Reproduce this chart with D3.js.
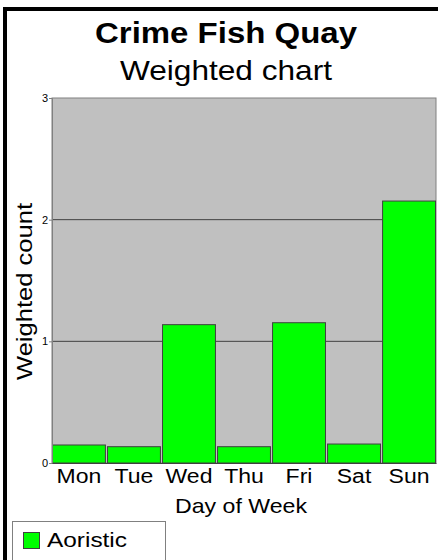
<!DOCTYPE html>
<html>
<head>
<meta charset="utf-8">
<script src="https://cdn.jsdelivr.net/npm/d3@7"></script>
<style>
  html, body { margin: 0; padding: 0; background: #fff; }
  text { font-family: Arial, "Liberation Sans", sans-serif; }
</style>
</head>
<body>
<div id="visualization"></div>
<script>
// data
const days = ["Mon", "Tue", "Wed", "Thu", "Fri", "Sat", "Sun"];
const counts = [0.148, 0.134, 1.137, 0.134, 1.153, 0.156, 2.153];
const yTicks = [0, 1, 2, 3];

const width = 438;
const height = 560;
const margin = { top: 98, right: 2, bottom: 97, left: 52 };
const font = "Arial, 'Liberation Sans', sans-serif";
const stretch = 1.15; // reference text is drawn a bit wide

const svg = d3.select("#visualization")
  .append("svg")
  .attr("width", width)
  .attr("height", height);

// outer frame (right and bottom edges fall off the page)
svg.append("rect")
  .attr("x", 5).attr("y", 9)
  .attr("width", 460).attr("height", 600)
  .attr("fill", "none")
  .attr("stroke", "#000")
  .attr("stroke-width", 4);

// scales
const x = d3.scaleBand()
  .domain(days)
  .range([margin.left, width - margin.right])
  .paddingInner(0.02)
  .paddingOuter(0);

const y = d3.scaleLinear()
  .domain([0, 3])
  .range([height - margin.bottom, margin.top]);

// plot background
svg.append("rect")
  .attr("x", margin.left)
  .attr("y", margin.top)
  .attr("width", width - margin.right - margin.left)
  .attr("height", y(0) - y(3))
  .attr("fill", "#c0c0c0")
  .attr("stroke", "#808080");

// gridlines
svg.append("g")
  .selectAll("line")
  .data([1, 2])
  .join("line")
  .attr("x1", margin.left)
  .attr("x2", width - margin.right)
  .attr("y1", d => y(d))
  .attr("y2", d => y(d))
  .attr("stroke", "#404040")
  .attr("stroke-width", 1);

// bars
svg.append("g")
  .selectAll("rect")
  .data(days.map((d, i) => ({ day: d, value: counts[i] })))
  .join("rect")
  .attr("x", d => x(d.day) + 0.5)
  .attr("y", d => y(d.value))
  .attr("width", x.bandwidth() - 1)
  .attr("height", d => y(0) - y(d.value))
  .attr("fill", "#00ff00")
  .attr("stroke", "#404040")
  .attr("stroke-width", 1);

// y axis
const yAxis = svg.append("g")
  .attr("transform", `translate(${margin.left},0)`)
  .call(d3.axisLeft(y).tickValues(yTicks).tickFormat(d3.format("d")).tickSize(3).tickPadding(1));
yAxis.select(".domain").attr("stroke", "#808080");
yAxis.selectAll(".tick line").attr("stroke", "#808080");
yAxis.selectAll(".tick text").attr("font-size", 11).attr("fill", "#000")
  .attr("font-family", font);

// x axis
const xAxis = svg.append("g")
  .attr("transform", `translate(0,${y(0)})`)
  .call(d3.axisBottom(x).tickSize(0).tickPadding(6));
xAxis.select(".domain").attr("stroke", "#404040");
xAxis.selectAll(".tick text")
  .attr("font-size", 20).attr("fill", "#000")
  .attr("font-family", font)
  .each(function () {
    const w = this.getComputedTextLength();
    d3.select(this).attr("textLength", w * stretch).attr("lengthAdjust", "spacingAndGlyphs");
  });

// titles
svg.append("text")
  .attr("x", 226).attr("y", 43)
  .attr("text-anchor", "middle")
  .attr("font-size", 29).attr("font-weight", "bold")
  .attr("textLength", 262).attr("lengthAdjust", "spacingAndGlyphs")
  .text("Crime Fish Quay");

svg.append("text")
  .attr("x", 226).attr("y", 80)
  .attr("text-anchor", "middle")
  .attr("font-size", 28)
  .attr("textLength", 212).attr("lengthAdjust", "spacingAndGlyphs")
  .text("Weighted chart");

// axis labels
svg.append("text")
  .attr("transform", `translate(32,291.5) rotate(-90)`)
  .attr("text-anchor", "middle")
  .attr("font-size", 22)
  .attr("textLength", 177).attr("lengthAdjust", "spacingAndGlyphs")
  .text("Weighted count");

svg.append("text")
  .attr("x", 241).attr("y", 513)
  .attr("text-anchor", "middle")
  .attr("font-size", 21)
  .attr("textLength", 132).attr("lengthAdjust", "spacingAndGlyphs")
  .text("Day of Week");

// legend
const legend = svg.append("g");
legend.append("rect")
  .attr("x", 12.5).attr("y", 521.5)
  .attr("width", 153).attr("height", 60)
  .attr("fill", "#fff")
  .attr("stroke", "#808080");
legend.append("rect")
  .attr("x", 23.5).attr("y", 532.5)
  .attr("width", 16).attr("height", 16)
  .attr("fill", "#00ff00")
  .attr("stroke", "#404040");
legend.append("text")
  .attr("x", 47).attr("y", 547)
  .attr("font-size", 21)
  .attr("textLength", 80).attr("lengthAdjust", "spacingAndGlyphs")
  .text("Aoristic");
</script>
</body>
</html>
